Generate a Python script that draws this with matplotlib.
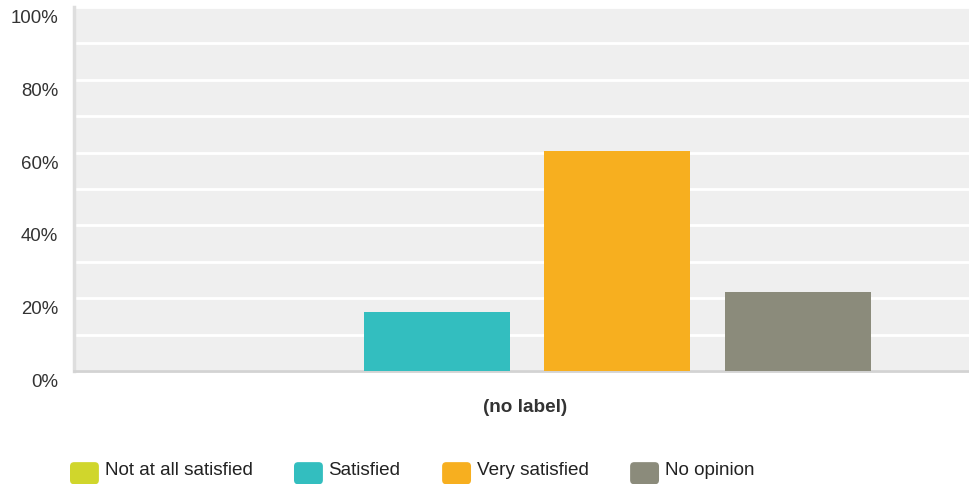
import matplotlib
matplotlib.use("Agg")
import matplotlib.pyplot as plt
import matplotlib.transforms as mtransforms
from matplotlib.patches import FancyBboxPatch, Patch
from matplotlib.legend_handler import HandlerPatch

categories = ["Not at all satisfied", "Satisfied", "Very satisfied", "No opinion"]
values = [0.0, 16.2, 60.5, 21.7]
colors = ["#D0D62C", "#33BEBF", "#F7AF1F", "#8B8B7B"]
x_label = "(no label)"
y_ticks = [0, 20, 40, 60, 80, 100]

plt.rcParams["font.family"] = ["Liberation Sans", "DejaVu Sans"]

fig = plt.figure(figsize=(9.69, 4.85), dpi=100)
W, H = 969, 485
ax = fig.add_axes([74 / W, (H - 372) / H, (969 - 74) / W, (372 - 8) / H])
ax.set_facecolor("#EFEFEF")

xs = list(range(len(categories)))
bars = ax.bar(xs, values, width=0.807, color=colors, zorder=3)

ax.set_xlim(-1.006, 3.945)
ax.set_ylim(0, 100)
ax.yaxis.grid(True, color="white", linewidth=2, zorder=1)
ax.set_axisbelow(True)
ax.set_yticks(range(0, 101, 10))
ax.set_yticklabels([f"{v}%" if v in y_ticks else "" for v in range(0, 101, 10)])
ax.tick_params(axis="y", length=0, pad=11.5, labelsize=13.4, labelcolor="#333333")
offset = mtransforms.ScaledTranslation(0, -2 / 100, fig.dpi_scale_trans)
for lbl in ax.get_yticklabels():
    lbl.set_verticalalignment("top")
    lbl.set_transform(lbl.get_transform() + offset)
ax.set_xticks([])

for s in ["top", "right"]:
    ax.spines[s].set_visible(False)
ax.spines["left"].set_color("#DEDEDE")
ax.spines["left"].set_linewidth(2.5)
ax.spines["bottom"].set_color("#D3D3D3")
ax.spines["bottom"].set_linewidth(2)

fig.text(525 / W, 1 - 408 / H, x_label, ha="center", va="center",
         fontsize=13.6, fontweight="bold", color="#333333")


class RoundHandler(HandlerPatch):
    def create_artists(self, legend, orig_handle, xdescent, ydescent, width,
                       height, fontsize, trans):
        p = FancyBboxPatch((-xdescent, -ydescent - 5), width, height + 2,
                           boxstyle="round,pad=0,rounding_size=3",
                           facecolor=orig_handle.get_facecolor(),
                           edgecolor="none", transform=trans)
        return [p]


handles = [Patch(facecolor=c) for c in colors]
leg = fig.legend(handles, categories, loc="center left",
                 bbox_to_anchor=(70 / W, 1 - 469 / H), ncol=4, frameon=False,
                 fontsize=13.6, handlelength=1.53, handleheight=1.2,
                 handletextpad=0.3, columnspacing=2.2, borderpad=0,
                 borderaxespad=0,
                 handler_map={Patch: RoundHandler()})
for t in leg.get_texts():
    t.set_color("#222222")

fig.savefig("out.png", dpi=100)
